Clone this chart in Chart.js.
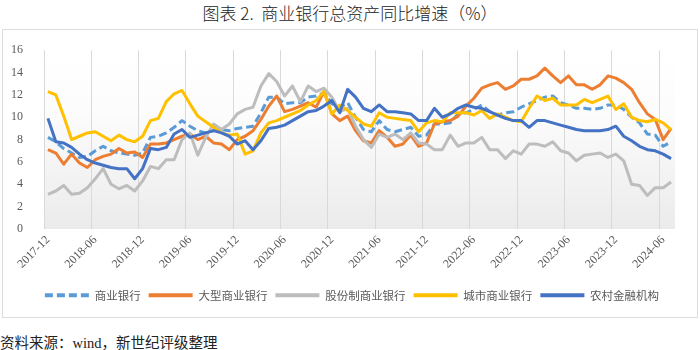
<!DOCTYPE html>
<html>
<head>
<meta charset="utf-8">
<script src="https://cdn.jsdelivr.net/npm/chart.js@4.4.1/dist/chart.umd.min.js"></script>
<style>
body { margin: 0; width: 700px; height: 350px; background: #fff; position: relative; overflow: hidden; }
#title { position: absolute; left: 0; top: 0; width: 700px; text-align: center; font: 300 17px "Noto Sans CJK SC"; color: #222; }
#box { position: absolute; left: 2px; top: 29px; width: 696px; height: 289px; box-sizing: border-box; border: 1px solid #dcdcdc; }
#source { position: absolute; left: 0; top: 331px; font: 14.5px "Liberation Serif", "Noto Sans CJK SC"; color: #222; }
</style>
</head>
<body>
<div id="title">图表 2.&nbsp;&nbsp;商业银行总资产同比增速（%）</div>
<div id="box"><canvas id="myChart" width="694" height="287"></canvas></div>
<div id="source">资料来源：wind，新世纪评级整理</div>
<script>
// months on the x axis
var months = [
  '2017-12',
  '2018-01','2018-02','2018-03','2018-04','2018-05','2018-06','2018-07','2018-08','2018-09','2018-10','2018-11','2018-12',
  '2019-01','2019-02','2019-03','2019-04','2019-05','2019-06','2019-07','2019-08','2019-09','2019-10','2019-11','2019-12',
  '2020-01','2020-02','2020-03','2020-04','2020-05','2020-06','2020-07','2020-08','2020-09','2020-10','2020-11','2020-12',
  '2021-01','2021-02','2021-03','2021-04','2021-05','2021-06','2021-07','2021-08','2021-09','2021-10','2021-11','2021-12',
  '2022-01','2022-02','2022-03','2022-04','2022-05','2022-06','2022-07','2022-08','2022-09','2022-10','2022-11','2022-12',
  '2023-01','2023-02','2023-03','2023-04','2023-05','2023-06','2023-07','2023-08','2023-09','2023-10','2023-11','2023-12',
  '2024-01','2024-02','2024-03','2024-04','2024-05','2024-06','2024-07'
];

// total asset growth, % yoy
var commercial = [
  8.2, 7.8, 7.2, 6.8, 6.4, 6.5, 7.0, 7.4, 7.0, 6.8, 6.7, 6.6,
  6.8, 8.2, 8.3, 8.6, 9.1, 9.7, 9.2, 8.8, 8.6, 8.8, 8.9, 8.8,
  9.0, 9.1, 9.2, 10.4, 11.8, 11.8, 11.2, 11.3, 11.3, 11.8, 11.9, 12.2,
  11.2, 10.9, 11.3, 10.0, 8.9, 8.7, 9.7, 8.9, 8.7, 8.9, 9.1, 8.3,
  8.4, 9.4, 9.4, 9.5, 10.3, 10.4, 10.7, 11.1, 10.5, 10.2, 10.4, 10.5,
  10.9, 11.2, 11.5, 11.8, 11.9, 11.3, 11.1, 10.8, 10.8, 10.7, 10.8, 11.1,
  11.1, 10.7, 10.0, 9.5, 8.5, 8.4, 7.4, 7.8
];
var large = [
  7.1, 6.8, 5.8, 6.7, 5.9, 5.5, 6.2, 6.5, 6.7, 7.2, 6.8, 6.9,
  6.4, 7.6, 7.6, 7.7, 8.0, 8.3, 8.5, 8.0, 8.3, 7.7, 7.6, 7.1,
  8.0, 8.3, 8.8, 9.8, 11.0, 11.9, 10.5, 10.7, 11.0, 11.3, 10.9, 12.3,
  10.3, 9.7, 10.1, 8.8, 7.9, 7.7, 8.8, 8.2, 7.4, 7.6, 8.4, 7.4,
  7.7, 9.4, 9.6, 9.7, 10.1, 11.0, 11.7, 12.6, 12.9, 13.1, 12.5, 12.8,
  13.4, 13.4, 13.7, 14.4, 13.7, 13.1, 13.7, 12.9, 12.9, 12.5, 12.9, 13.7,
  13.5, 13.1, 12.5, 11.3, 10.3, 9.8, 8.0, 9.0
];
var jointStock = [
  3.1, 3.4, 3.9, 3.1, 3.2, 3.7, 4.5, 5.4, 4.0, 3.6, 3.9, 3.4,
  4.3, 5.6, 5.4, 6.2, 6.2, 8.0, 8.6, 6.6, 8.2, 9.4, 8.9, 9.4,
  10.3, 10.7, 10.9, 12.8, 13.9, 13.2, 11.9, 12.8, 11.4, 12.8, 12.3, 12.6,
  11.8, 10.5, 10.8, 9.2, 8.0, 7.3, 8.5, 8.2, 8.5, 8.0, 8.6, 7.7,
  7.6, 7.1, 7.1, 8.4, 7.4, 7.7, 7.7, 8.2, 7.1, 7.1, 6.3, 7.0,
  6.7, 7.6, 7.6, 7.4, 7.8, 7.0, 6.8, 6.1, 6.6, 6.7, 6.8, 6.4,
  6.7, 6.1, 4.0, 3.9, 3.0, 3.7, 3.7, 4.2
];
var cityBanks = [
  12.3, 12.0, 10.1, 8.0, 8.3, 8.6, 8.7, 8.3, 7.9, 8.4, 8.0, 7.8,
  8.3, 9.7, 9.9, 11.4, 12.1, 12.4, 11.2, 10.1, 9.6, 9.1, 8.6, 8.4,
  8.5, 6.7, 7.0, 8.6, 9.5, 9.7, 10.0, 10.3, 10.6, 11.1, 11.5, 12.3,
  10.3, 11.1, 10.6, 10.0, 9.4, 9.2, 10.4, 10.0, 9.9, 9.8, 9.7, 8.7,
  9.5, 9.7, 9.6, 10.4, 10.4, 10.4, 10.2, 10.6, 9.9, 10.3, 10.0, 9.7,
  9.6, 10.8, 11.9, 11.5, 11.7, 11.1, 11.1, 11.1, 11.6, 11.3, 11.6, 11.9,
  10.7, 11.2, 10.0, 9.7, 9.6, 9.8, 9.5, 8.9
];
var rural = [
  9.9, 7.8, 7.7, 7.3, 6.7, 6.2, 5.9, 5.7, 5.5, 5.4, 5.4, 4.5,
  5.4, 7.2, 7.1, 7.3, 8.5, 8.9, 8.2, 8.4, 8.6, 8.8, 8.6, 8.3,
  7.6, 7.9, 7.1, 7.9, 9.0, 9.1, 9.3, 9.7, 10.1, 10.5, 10.6, 11.0,
  11.5, 10.4, 12.5, 11.8, 10.8, 10.5, 11.1, 10.5, 10.5, 10.4, 10.3, 9.7,
  9.7, 10.8, 10.0, 10.3, 10.8, 11.1, 10.9, 10.8, 10.5, 10.2, 9.9, 9.7,
  9.7, 9.1, 9.7, 9.7, 9.5, 9.3, 9.1, 8.9, 8.8, 8.8, 8.8, 8.9,
  9.2, 8.3, 7.9, 7.4, 7.1, 7.0, 6.7, 6.3
];

var seriesNames = ['商业银行', '大型商业银行', '股份制商业银行', '城市商业银行', '农村金融机构'];
var seriesColors = ['#5B9BD5', '#ED7D31', '#BDBDBD', '#FFC000', '#4472C4'];

var axisFont = { family: '"Liberation Serif", "Noto Sans CJK SC"', size: 12 };

// soft white-to-grey fill behind the plot
var plotBackground = {
  id: 'plotBackground',
  beforeDraw: function (chart) {
    var a = chart.chartArea, ctx = chart.ctx;
    var g = ctx.createLinearGradient(0, a.top, 0, a.bottom);
    g.addColorStop(0, '#ffffff');
    g.addColorStop(0.35, '#fcfcfc');
    g.addColorStop(1, '#ebebeb');
    ctx.save();
    ctx.fillStyle = g;
    ctx.fillRect(a.left, a.top, a.right - a.left, a.bottom - a.top);
    ctx.restore();
  }
};

// the legend is centred on the whole frame, not on the space left of the right padding
var legendShift = {
  id: 'legendShift',
  afterLayout: function (chart) {
    if (chart.legend) {
      chart.legend.left += 13;
      chart.legend.right += 13;
    }
  }
};

function line(idx, values, dash) {
  return {
    label: seriesNames[idx],
    data: values,
    borderColor: seriesColors[idx],
    backgroundColor: seriesColors[idx],
    borderWidth: 3,
    borderDash: dash || [],
    borderJoinStyle: 'round',
    pointRadius: 0,
    tension: 0,
    fill: false,
    order: 5 - idx
  };
}

var ctx = document.getElementById('myChart');
var myChart = new Chart(ctx, {
  type: 'line',
  data: {
    labels: months,
    datasets: [
      line(0, commercial, [8, 4]),
      line(1, large),
      line(2, jointStock),
      line(3, cityBanks),
      line(4, rural)
    ]
  },
  options: {
    responsive: false,
    animation: false,
    layout: { padding: { left: 0, right: 22, top: 17, bottom: 6 } },
    plugins: {
      tooltip: { enabled: false },
      legend: {
        position: 'bottom',
        labels: {
          usePointStyle: true,
          pointStyleWidth: 44,
          padding: 8,
          color: '#595959',
          font: { family: '"Noto Sans CJK SC"', size: 11.5 },
          generateLabels: function (chart) {
            return chart.data.datasets.map(function (ds, i) {
              return {
                text: ds.label,
                fillStyle: ds.borderColor,
                strokeStyle: ds.borderColor,
                lineWidth: 4,
                lineDash: ds.borderDash,
                lineCap: 'butt',
                pointStyle: 'line',
                fontColor: '#595959',
                hidden: false,
                datasetIndex: i
              };
            });
          }
        }
      }
    },
    scales: {
      x: {
        offset: true,
        border: { display: false },
        grid: {
          offset: true,
          drawTicks: false,
          lineWidth: 1,
          color: function (c) {
            return (c.index !== undefined && c.index % 6 === 0) ? '#d9d9d9' : 'rgba(0,0,0,0)';
          }
        },
        ticks: {
          autoSkip: false,
          minRotation: 45,
          maxRotation: 45,
          padding: 4,
          color: '#595959',
          font: axisFont,
          callback: function (val, index) {
            return index % 6 === 0 ? this.getLabelForValue(val) : '';
          }
        },
        afterFit: function (scale) { scale.height = 52.5; }
      },
      y: {
        min: 0,
        max: 16,
        border: { display: false },
        grid: { display: false },
        ticks: { stepSize: 2, padding: 13, color: '#595959', font: axisFont },
        afterFit: function (scale) { scale.width = 41; }
      }
    }
  },
  plugins: [plotBackground, legendShift]
});
</script>
</body>
</html>
